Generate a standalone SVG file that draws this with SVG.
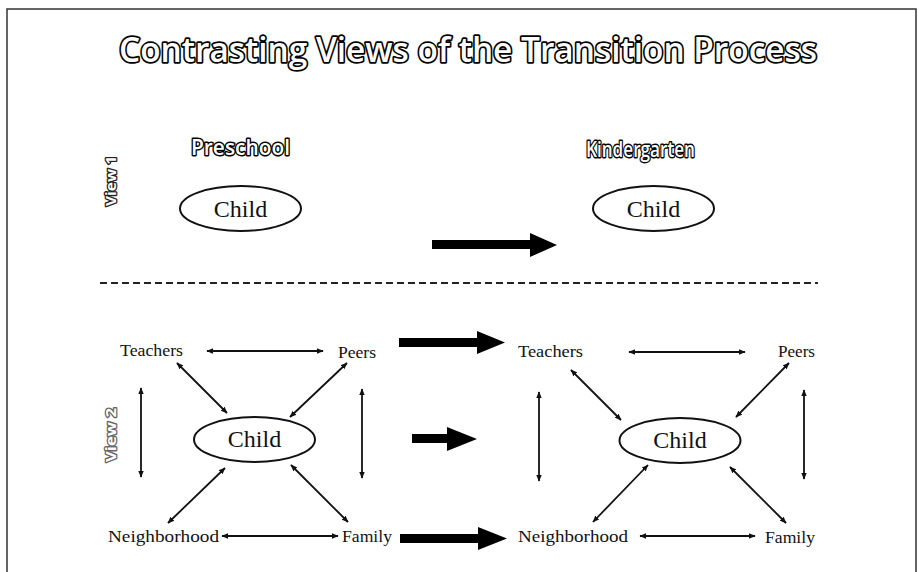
<svg xmlns="http://www.w3.org/2000/svg" width="919" height="572" viewBox="0 0 919 572">
<defs>
<marker id="ah" viewBox="0 0 10 10" refX="9" refY="5" markerWidth="7" markerHeight="7" markerUnits="userSpaceOnUse" orient="auto-start-reverse">
<path d="M0,1 L10,5 L0,9 Z" fill="#111"/>
</marker>
</defs>
<style>
.frame{stroke:#333;stroke-width:1.5;fill:none}
.outline{font-family:"Open Sans","DejaVu Sans",sans-serif;font-weight:600;fill:#fff;stroke:#000;stroke-width:3.4;stroke-linejoin:round;paint-order:stroke}
.view{font-family:"Open Sans","DejaVu Sans",sans-serif;font-weight:bold;font-size:15px;fill:#fff;stroke:#222;stroke-width:2.6;stroke-linejoin:round;paint-order:stroke}
.node{fill:#fff;stroke:#111;stroke-width:2}
.child{font-family:"Liberation Serif","Times New Roman",serif;font-size:24px;fill:#111;text-anchor:middle}
.lbl{font-family:"Liberation Serif","Times New Roman",serif;font-size:17px;fill:#111}
.conn{stroke:#111;stroke-width:1.8;fill:none;marker-start:url(#ah);marker-end:url(#ah)}
.big{fill:#000}
.dash{stroke:#222;stroke-width:2;stroke-dasharray:7 4}
</style>
<rect width="919" height="572" fill="#fff"/>
<g id="frame">
<path class="frame" d="M7,572 L7,9 L916,9 L916,572"/>
</g>
<g id="title">
<text class="outline" x="119" y="62" font-size="34" textLength="698" lengthAdjust="spacingAndGlyphs">Contrasting Views of the Transition Process</text>
</g>
<g id="headers">
<text class="outline" x="191" y="155" font-size="21" style="stroke-width:2.8" textLength="99" lengthAdjust="spacingAndGlyphs">Preschool</text>
<text class="outline" x="586" y="157" font-size="21" style="stroke-width:2.8" textLength="109" lengthAdjust="spacingAndGlyphs">Kindergarten</text>
<text class="view" transform="translate(116,181) rotate(-90)" text-anchor="middle" textLength="50" lengthAdjust="spacingAndGlyphs">View 1</text>
<text class="view" transform="translate(116,435) rotate(-90)" text-anchor="middle" textLength="54" lengthAdjust="spacingAndGlyphs" style="stroke:#666">View 2</text>
</g>
<g id="v1-preschool-child">
<ellipse class="node" cx="240.5" cy="208.5" rx="60.5" ry="22.5"/>
<text class="child" x="240.5" y="217">Child</text>
</g>
<g id="v1-kindergarten-child">
<ellipse class="node" cx="653.5" cy="208.5" rx="60.5" ry="22.5"/>
<text class="child" x="653.5" y="217">Child</text>
</g>
<g id="divider">
<line class="dash" x1="100" y1="283" x2="818" y2="283"/>
</g>
<g id="v2-pre-child">
<ellipse class="node" cx="254.5" cy="439.5" rx="60.5" ry="22.5"/>
<text class="child" x="254.5" y="447">Child</text>
</g>
<g id="v2-pre-teachers"><text class="lbl" x="120" y="356" textLength="63" lengthAdjust="spacingAndGlyphs">Teachers</text></g>
<g id="v2-pre-peers"><text class="lbl" x="338" y="358" textLength="38" lengthAdjust="spacingAndGlyphs">Peers</text></g>
<g id="v2-pre-neighborhood"><text class="lbl" x="108" y="542" textLength="111" lengthAdjust="spacingAndGlyphs">Neighborhood</text></g>
<g id="v2-pre-family"><text class="lbl" x="342" y="542" textLength="50" lengthAdjust="spacingAndGlyphs">Family</text></g>
<g id="v2-kg-child">
<ellipse class="node" cx="680" cy="440.5" rx="60.5" ry="22.5"/>
<text class="child" x="680" y="448">Child</text>
</g>
<g id="v2-kg-teachers"><text class="lbl" x="518" y="357" textLength="65" lengthAdjust="spacingAndGlyphs">Teachers</text></g>
<g id="v2-kg-peers"><text class="lbl" x="778" y="357" textLength="37" lengthAdjust="spacingAndGlyphs">Peers</text></g>
<g id="v2-kg-neighborhood"><text class="lbl" x="518" y="542" textLength="110" lengthAdjust="spacingAndGlyphs">Neighborhood</text></g>
<g id="v2-kg-family"><text class="lbl" x="765" y="543" textLength="50" lengthAdjust="spacingAndGlyphs">Family</text></g>
<g id="connectors">
<path class="big" d="M432,240 L530,240 L530,233 L557,245 L530,257 L530,249 L432,249 Z"/>
<path class="big" d="M399,338 L477,338 L477,331 L505,342.5 L477,354 L477,347 L399,347 Z"/>
<path class="big" d="M412,434 L447,434 L447,427 L477,439 L447,451 L447,443 L412,443 Z"/>
<path class="big" d="M400,534 L478,534 L478,527 L507,538.5 L478,550 L478,543 L400,543 Z"/>
<line class="conn" x1="207" y1="351" x2="323" y2="351"/>
<line class="conn" x1="177" y1="363" x2="227" y2="413"/>
<line class="conn" x1="347" y1="363" x2="290" y2="417"/>
<line class="conn" x1="141" y1="388" x2="141" y2="477"/>
<line class="conn" x1="362" y1="389" x2="362" y2="478"/>
<line class="conn" x1="168" y1="523" x2="225" y2="468"/>
<line class="conn" x1="348" y1="522" x2="291" y2="465"/>
<line class="conn" x1="222" y1="536" x2="338" y2="536"/>
<line class="conn" x1="629" y1="352" x2="745" y2="352"/>
<line class="conn" x1="571" y1="370" x2="621" y2="420"/>
<line class="conn" x1="789" y1="363" x2="736" y2="417"/>
<line class="conn" x1="539" y1="392" x2="539" y2="481"/>
<line class="conn" x1="804" y1="390" x2="804" y2="479"/>
<line class="conn" x1="593" y1="522" x2="648" y2="465"/>
<line class="conn" x1="786" y1="523" x2="730" y2="467"/>
<line class="conn" x1="640" y1="536" x2="755" y2="536"/>
</g>
</svg>
